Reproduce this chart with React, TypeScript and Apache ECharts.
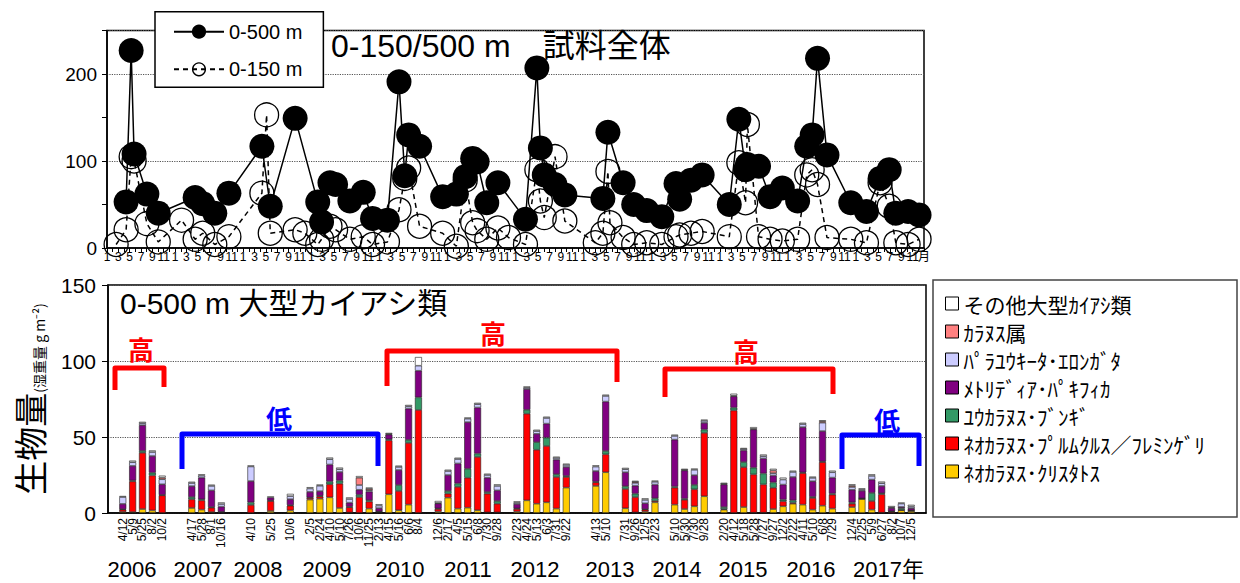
import { useEffect, useRef } from 'react';
import * as echarts from 'echarts';

// ---------- DATA ----------
// sampling dates (0-500 m samples, shown as bars below and filled circles above)
const sampleDates = [
  '2006-04-12', '2006-05-09', '2006-05-25', '2006-08-02', '2006-10-02',
  '2007-04-17', '2007-05-28', '2007-08-01', '2007-10-16',
  '2008-04-10', '2008-05-25', '2008-10-06',
  '2009-02-05', '2009-02-24', '2009-04-10', '2009-05-10', '2009-07-26', '2009-10-06', '2009-11-25',
  '2010-02-13', '2010-04-15', '2010-05-16', '2010-06-06', '2010-08-04',
  '2010-12-06', '2011-02-17', '2011-04-05', '2011-05-15', '2011-06-08', '2011-07-30', '2011-09-28',
  '2012-02-23', '2012-04-24', '2012-05-13', '2012-06-03', '2012-07-31', '2012-09-22',
  '2013-04-13', '2013-05-10', '2013-07-31', '2013-09-26', '2013-12-05', '2014-02-23',
  '2014-05-10', '2014-05-30', '2014-07-30', '2014-09-28',
  '2015-02-20', '2015-04-12', '2015-05-18', '2015-05-28', '2015-07-27', '2015-09-27', '2015-12-02',
  '2016-02-22', '2016-04-11', '2016-05-10', '2016-06-08', '2016-07-29',
  '2016-12-04', '2017-02-25', '2017-05-09', '2017-06-27', '2017-08-02', '2017-10-07', '2017-12-05',
];

// empty category slots on the lower x axis
const gapSlots = [0, 6, 7, 12, 13, 15, 17, 19, 32, 40, 47, 48, 51, 56, 61, 74, 82];
const slotCount = 83;

// 0-500 m total biomass (upper panel)
const total500 = [
  53, 227, 108, 62, 40,
  58, 51, 40, 63,
  117, 48, 149,
  53, 30, 75, 73, 54, 64, 34,
  32, 191, 83, 130, 117,
  59, 62, 82, 103, 99, 52, 75,
  33, 207, 115, 84, 73, 61,
  57, 133, 75, 50, 43, 36,
  74, 56, 78, 84,
  50, 148, 90, 96, 94, 59, 69,
  54, 117, 130, 218, 107,
  52, 42, 80, 90, 40, 42, 38,
];

// 0-150 m samples (upper panel)
const shallowDates = [
  '2006-02-18', '2006-04-12', '2006-05-09', '2006-05-25', '2006-08-02', '2006-10-02',
  '2007-02-05', '2007-04-17', '2007-05-28', '2007-08-01', '2007-10-16',
  '2008-04-10', '2008-05-05', '2008-05-25', '2008-10-06', '2008-11-27',
  '2009-02-05', '2009-02-24', '2009-04-10', '2009-05-10', '2009-07-26', '2009-10-06', '2009-11-25',
  '2010-02-13', '2010-04-15', '2010-05-16', '2010-06-06', '2010-08-04',
  '2010-12-06', '2011-02-17', '2011-04-05', '2011-05-15', '2011-06-08', '2011-07-30', '2011-09-28', '2011-11-24',
  '2012-02-23', '2012-04-24', '2012-05-13', '2012-06-03', '2012-07-31', '2012-09-22',
  '2013-03-03', '2013-04-13', '2013-05-10', '2013-05-21', '2013-07-31', '2013-09-26', '2013-12-05', '2014-02-23',
  '2014-05-10', '2014-05-30', '2014-07-30', '2014-09-28',
  '2015-02-20', '2015-04-12', '2015-05-18', '2015-05-28', '2015-07-27', '2015-09-27', '2015-12-02',
  '2016-02-22', '2016-04-11', '2016-05-10', '2016-06-08', '2016-07-29',
  '2016-12-04', '2017-02-25', '2017-05-09', '2017-06-27', '2017-08-02', '2017-10-07', '2017-12-05',
];
const total150 = [
  4, 21, 105, 100, 28, 7,
  32, 10, 17, 4, 13,
  63, 153, 17, 21, 17,
  4, 10, 25, 21, 10, 13, 4,
  7, 44, 80, 92, 25,
  17, 2, 78, 29, 20, 10, 23, 12,
  4, 90, 54, 35, 105, 31,
  6, 17, 88, 29, 12, 4, 6, 4,
  13, 15, 17, 19,
  13, 98, 52, 142, 13, 10, 8,
  10, 84, 90, 73, 12,
  10, 6, 75, 48, 6, 4, 10,
];

// large copepod biomass by taxon (lower panel), one value per sample
const cristatus = [
  0.7, 0.6, 2.6, 1.7, 0, 3.3, 2.2, 0.6, 0.2, 0, 1.3, 1.7,
  8.8, 9.4, 10.3, 3.3, 0.3, 0, 2.9, 0.4, 12.3, 1.8, 5.5, 0,
  0.9, 10.1, 2.9, 3.5, 1.8, 0.4, 0.4, 0.9, 8.3, 6.1, 7, 2.9, 16.7,
  17.8, 26.8, 3.1, 0.4, 0.9, 7, 5.5, 2.6, 4.4, 11,
  2.2, 0, 3.9, 0.2, 0.2, 2.6, 4.4, 6.1, 5.5, 2.2, 4.8, 2.9,
  3.9, 9.2, 2.2, 0.2, 0.2, 1.8, 1.3,
];
const plumchrus = [
  1.5, 20.2, 37, 23, 11.6, 5.7, 6.1, 2.9, 0.3, 5.3, 6.6, 3.1,
  1.1, 1.5, 8.6, 16, 3.5, 10.5, 4.6, 0.4, 35.5, 12.7, 40.6, 67.8,
  1.8, 2.6, 14.3, 19.7, 35.1, 12.3, 5.7, 1.8, 57, 35.5, 37.1, 20.8, 7,
  2.4, 11.8, 12.7, 10.1, 1.3, 0.9, 11.2, 6.1, 11.2, 41.7,
  0.4, 67.5, 26.3, 25.2, 18.6, 14, 3.3, 0.7, 20.8, 7.7, 28.7, 9.2,
  2.2, 0.2, 5.7, 12.1, 0.7, 0.2, 0.2,
];
const bungii = [
  0.3, 0.6, 1.3, 1.8, 0.3, 1.5, 0.7, 0.4, 0.2, 1.7, 0.3, 0.4,
  0.3, 0.4, 1.8, 2, 0.4, 1.5, 0.9, 0.2, 0.7, 3.9, 2, 8.3,
  0.3, 1.8, 2.2, 5.9, 2.2, 1.1, 1.8, 0.3, 2.6, 5, 5.5, 1.8, 0.7,
  0.4, 2.2, 1.8, 2.2, 0.3, 1.8, 0.7, 0.7, 2.9, 2.2,
  1.3, 1.8, 3.3, 4.4, 7.2, 3.5, 1.1, 1.5, 0.4, 0.7, 0.4, 0.7,
  0.9, 0.2, 5.3, 0.7, 0.2, 1.1, 0.2,
];
const pacifica = [
  3.5, 9.6, 16.9, 11, 7, 7.2, 14.3, 11, 3.5, 14, 2, 3.9,
  3.7, 3.1, 11.2, 5.7, 2.6, 3.3, 5.7, 2.2, 3.1, 9.9, 20.6, 17.5,
  3.3, 10.5, 13.2, 30.7, 30.3, 9.4, 7, 2.9, 13.6, 5.5, 9.2, 9.6, 5.9,
  7, 32.5, 9.2, 5.3, 3.9, 9, 30.9, 18.6, 6.4, 4.4,
  14.9, 7.5, 7.7, 25.2, 9.9, 4.6, 9.9, 15.4, 29.8, 10.3, 20, 10.5,
  8.3, 5, 8.8, 4.8, 2.2, 0.9, 1.5,
];
const elongata = [
  4.5, 2.4, 1.3, 2.6, 3.3, 2, 1.3, 2.9, 1.7, 9.6, 0, 2,
  2.2, 3.5, 3.5, 1.8, 2.4, 3.1, 0.9, 1.7, 0.4, 2, 1.5, 3.3,
  0.3, 2.6, 2.9, 2.2, 2.2, 1.8, 2.9, 0.9, 0.9, 1.8, 3.7, 1.1, 1.3,
  2.9, 3.7, 2, 1.8, 2.2, 1.8, 2.4, 0.4, 3.5, 1.3,
  0.4, 0.4, 0.9, 0.4, 1.5, 1.5, 3.3, 3.3, 2, 2.2, 5.5, 3.5,
  1.8, 0.9, 2.4, 1.8, 0.4, 2.2, 1.1,
];
const calanus = [
  0, 0, 0, 0, 1.1, 0, 0, 0, 0, 0, 0, 0,
  0, 0, 0, 0, 0, 4.8, 0.9, 0, 0, 0, 0, 0,
  0, 0, 0, 0, 0, 0, 0, 0, 0, 0, 0, 0, 0,
  0, 0, 0, 0.7, 0, 0, 0, 0, 0, 0,
  0, 0, 0, 0, 0, 1.8, 0, 0, 0, 0, 0.9, 0,
  0.9, 0, 0, 0, 0, 0, 0,
];
const others = [
  0.7, 1.1, 0.9, 1.1, 1.3, 0.9, 0.9, 0.9, 1.1, 0.7, 0.7, 1.5,
  0.9, 0.9, 1.1, 1.1, 1.1, 1.1, 0.9, 0.9, 0.7, 0.9, 0.9, 5.7,
  1.3, 0.9, 0.9, 0.9, 0.9, 0.9, 1.1, 0.9, 0.9, 0.9, 0.9, 0.9, 0.9,
  0.9, 0.9, 0.9, 0.7, 1.1, 0.9, 0.9, 0.7, 0.9, 0.9,
  0.7, 1.3, 0.7, 1.1, 1.1, 1.1, 1.3, 0.9, 0.9, 0.9, 0.7, 1.1,
  0.9, 0.7, 1.1, 1.1, 0.9, 0.7, 1.1,
];

const speciesNames = [
  'ﾈｵｶﾗﾇｽ･ｸﾘｽﾀﾄｽ',
  'ﾈｵｶﾗﾇｽ･ﾌﾟﾙﾑｸﾙｽ／ﾌﾚﾐﾝｹﾞﾘ',
  'ﾕｳｶﾗﾇｽ･ﾌﾞﾝｷﾞ',
  'ﾒﾄﾘﾃﾞｨｱ･ﾊﾟｷﾌｨｶ',
  'ﾊﾟﾗﾕｳｷｰﾀ･ｴﾛﾝｶﾞﾀ',
  'ｶﾗﾇｽ属',
  'その他大型ｶｲｱｼ類',
];
const speciesValues = [cristatus, plumchrus, bungii, pacifica, elongata, calanus, others];

const yearLabels = ['2006', '2007', '2008', '2009', '2010', '2011', '2012', '2013', '2014', '2015', '2016', '2017年'];
const topTicks = ['0', '100', '200'];

// ---------- STYLE / LAYOUT ----------
const speciesColors = ['#FFCC00', '#FF0000', '#339966', '#800080', '#CCCCFF', '#FF8080', '#FFFFFF'];
const yearLabelX = [132, 198, 258, 327, 400, 468, 535, 610, 677, 743, 811, 853];
const FONT = "'Liberation Sans', 'Noto Sans CJK JP', sans-serif";
const JFONT = "'Noto Sans CJK JP', 'Liberation Sans', sans-serif";

const brackets = [
  { color: '#FF0000', text: '高', pts: [[115, 390], [115, 368], [164, 368], [164, 387]], lx: 141, ly: 348 },
  { color: '#0000FF', text: '低', pts: [[182, 469], [182, 434], [378, 434], [378, 466]], lx: 279, ly: 417 },
  { color: '#FF0000', text: '高', pts: [[387, 386], [387, 351], [617, 351], [617, 382]], lx: 493, ly: 332 },
  { color: '#FF0000', text: '高', pts: [[665, 397], [665, 369], [833, 369], [833, 394]], lx: 746, ly: 350 },
  { color: '#0000FF', text: '低', pts: [[842, 469], [842, 435], [919, 435], [919, 466]], lx: 887, ly: 419 },
];

function toMonthIndex(d: string): number {
  const [y, m, day] = d.split('-').map(Number);
  const dim = new Date(y, m, 0).getDate();
  return (y - 2006) * 12 + (m - 1) + (day - 1) / dim;
}
function shortLabel(d: string): string {
  const [, m, day] = d.split('-').map(Number);
  return `${m}/${day}`;
}

function buildOption() {
  const slotSample: (number | null)[] = [];
  let k = 0;
  for (let s = 0; s < slotCount; s++) slotSample.push(gapSlots.includes(s) ? null : k++);
  const categories = slotSample.map((i) => (i === null ? '' : shortLabel(sampleDates[i])));
  const toSlots = (arr: number[]) => slotSample.map((i) => (i === null || !arr[i] ? null : arr[i]));

  const deep = sampleDates.map((d, i) => [toMonthIndex(d), total500[i]]);
  const shallow = shallowDates.map((d, i) => [toMonthIndex(d), total150[i]]);

  const graphic: any[] = [];
  graphic.push({
    type: 'text', left: 331, top: 30, z: 10,
    style: { text: '0-150/500 m　試料全体', fill: '#000', fontSize: 32, fontFamily: FONT },
  });
  graphic.push({
    type: 'text', left: 120, top: 288, z: 10,
    style: { text: '0-500 m 大型カイアシ類', fill: '#000', fontSize: 30, fontFamily: FONT },
  });
  brackets.forEach((b) => {
    graphic.push({
      type: 'polyline', z: 10,
      shape: { points: b.pts },
      style: { stroke: b.color, lineWidth: 5, fill: null, lineJoin: 'round' },
    });
    graphic.push({
      type: 'text', x: b.lx, y: b.ly, z: 10,
      style: { text: b.text, fill: b.color, fontSize: 26, fontWeight: 'bold', fontFamily: JFONT, align: 'center', verticalAlign: 'middle' },
    });
  });
  yearLabels.forEach((t, i) => {
    graphic.push({
      type: 'text', x: yearLabelX[i], y: 569, z: 10,
      style: {
        text: t, fill: '#000', fontSize: 22, fontFamily: FONT,
        align: i === yearLabels.length - 1 ? 'left' : 'center', verticalAlign: 'middle',
      },
    });
  });
  graphic.push({
    type: 'rect', z: 5,
    shape: { x: 933, y: 280, width: 304, height: 237 },
    style: { fill: '#fff', stroke: '#444', lineWidth: 1.5 },
  });

  const barSeries = speciesNames.map((name, i) => ({
    type: 'bar', name, xAxisIndex: 1, yAxisIndex: 2, stack: 'cop', barWidth: 7,
    data: toSlots(speciesValues[i]),
    itemStyle: { color: speciesColors[i], borderColor: '#222', borderWidth: 0.6 },
  }));

  return {
    animation: false,
    backgroundColor: '#fff',
    textStyle: { fontFamily: FONT },
    graphic,
    legend: [
      {
        data: ['0-500 m', '0-150 m'], orient: 'vertical', left: 155, top: 11.7,
        padding: [10, 21, 8, 18], itemGap: 17.6, itemWidth: 50, itemHeight: 16,
        textStyle: { fontSize: 20, fontFamily: FONT, color: '#000' },
        backgroundColor: '#fff', borderColor: '#000', borderWidth: 1.5, selectedMode: false, z: 20,
        itemStyle: { borderColor: '#000', borderWidth: 1.3 },
      },
      {
        data: speciesNames.slice().reverse(), orient: 'vertical', left: 945, top: 293,
        padding: 0, itemGap: 7, itemWidth: 13, itemHeight: 13, icon: 'rect',
        textStyle: { fontSize: 21, fontFamily: JFONT, color: '#000', lineHeight: 21 },
        itemStyle: { borderColor: '#000', borderWidth: 1 }, selectedMode: false, z: 20,
      },
    ],
    grid: [
      { left: 107, top: 30.5, width: 817, height: 217.5, show: true, borderColor: '#000', borderWidth: 1.5 },
      { left: 108, top: 285, width: 818, height: 228, show: true, borderColor: '#000', borderWidth: 1.5 },
    ],
    xAxis: [
      {
        type: 'value', gridIndex: 0, min: 0, max: 144, interval: 1,
        axisLine: { lineStyle: { color: '#000', width: 1.5 } },
        axisTick: { length: 4, lineStyle: { color: '#000' } },
        axisLabel: {
          color: '#000', fontSize: 12, fontFamily: FONT, margin: 3,
          formatter: (v: number) => (v === 144 ? '月' : v % 2 === 0 ? String((v % 12) + 1) : ''),
        },
        splitLine: { show: false },
      },
      {
        type: 'category', gridIndex: 1, data: categories,
        axisLine: { lineStyle: { color: '#000', width: 1.5 } },
        axisTick: { interval: 0, length: 6, lineStyle: { color: '#000' } },
        axisLabel: { interval: 0, rotate: 90, fontSize: 12, color: '#000', fontFamily: FONT, margin: 5 },
      },
    ],
    yAxis: [
      {
        type: 'value', gridIndex: 0, min: 0, max: 250, interval: 50,
        axisLine: { show: true, lineStyle: { color: '#000', width: 1.5 } },
        axisTick: { show: true, length: 5, lineStyle: { color: '#000' } },
        axisLabel: {
          color: '#000', fontSize: 19, fontFamily: FONT, margin: 10,
          formatter: (v: number) => (topTicks.includes(String(v)) ? String(v) : ''),
        },
        splitLine: { show: false },
      },
      {
        type: 'value', gridIndex: 0, min: 0, max: 250, interval: 100, position: 'left',
        axisLine: { show: false }, axisTick: { show: false }, axisLabel: { show: false },
        splitLine: { show: true, lineStyle: { color: '#555', type: 'dotted', width: 1.2 } },
      },
      {
        type: 'value', gridIndex: 1, min: 0, max: 150, interval: 50,
        axisLine: { show: true, lineStyle: { color: '#000', width: 1.5 } },
        axisTick: { show: true, length: 6, lineStyle: { color: '#000' } },
        axisLabel: { color: '#000', fontSize: 21, fontFamily: FONT, margin: 12 },
        splitLine: { show: true, lineStyle: { color: '#555', type: 'dotted', width: 1.2 } },
        name: '{big|生物量}{small|(湿重量 g m⁻²)}',
        nameLocation: 'middle', nameRotate: 90, nameGap: 62,
        nameTextStyle: {
          rich: {
            big: { fontSize: 34, fontFamily: JFONT, color: '#000', verticalAlign: 'bottom' },
            small: { fontSize: 14, fontFamily: JFONT, color: '#000', verticalAlign: 'bottom' },
          },
        },
      },
    ],
    series: [
      {
        type: 'line', name: '0-150 m', xAxisIndex: 0, yAxisIndex: 0, data: shallow, z: 3,
        symbol: 'circle', symbolSize: 24,
        itemStyle: { color: 'rgba(255,255,255,0)', borderColor: '#000', borderWidth: 1.3 },
        lineStyle: { color: '#000', width: 1.5, type: [5, 4] },
      },
      {
        type: 'line', name: '0-500 m', xAxisIndex: 0, yAxisIndex: 0, data: deep, z: 4,
        symbol: 'circle', symbolSize: 25,
        itemStyle: { color: '#000' },
        lineStyle: { color: '#000', width: 1.5 },
      },
      ...barSeries,
    ],
  };
}

export default function App() {
  const ref = useRef<HTMLDivElement>(null);
  useEffect(() => {
    if (!ref.current) return;
    const chart = echarts.init(ref.current, null, { renderer: 'svg' });
    chart.setOption(buildOption() as any);
    return () => chart.dispose();
  }, []);
  return (
    <div
      ref={ref}
      style={{ position: 'fixed', left: 0, top: 0, width: 1240, height: 583, background: '#fff' }}
    />
  );
}
